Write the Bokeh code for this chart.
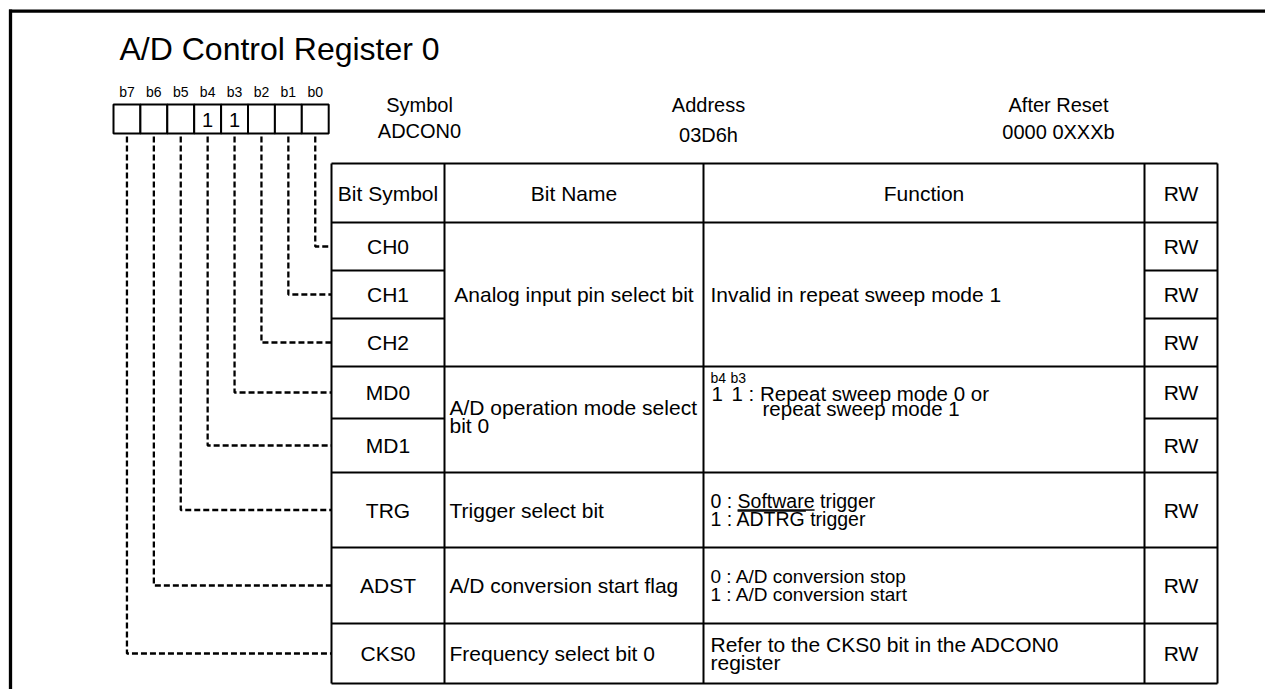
from bokeh.plotting import figure
from bokeh.models import Range1d
from bokeh.embed import file_html
from bokeh.resources import INLINE
from bokeh.core.properties import value

# ---------------- data ----------------
title_text = "A/D Control Register 0"
bit_labels = ["b7", "b6", "b5", "b4", "b3", "b2", "b1", "b0"]
reset_marks = ["", "", "", "1", "1", "", "", ""]
info_heads = ["Symbol", "Address", "After Reset"]
info_vals = ["ADCON0", "03D6h", "0000 0XXXb"]
col_heads = ["Bit Symbol", "Bit Name", "Function", "RW"]
symbols = ["CH0", "CH1", "CH2", "MD0", "MD1", "TRG", "ADST", "CKS0"]
bit_numbers = [0, 1, 2, 3, 4, 5, 6, 7]
access = ["RW", "RW", "RW", "RW", "RW", "RW", "RW", "RW"]
group_first = [0, 3, 5, 6, 7]
group_last = [2, 4, 5, 6, 7]
names = [["Analog input pin select bit"],
         ["A/D operation mode select", "bit 0"],
         ["Trigger select bit"],
         ["A/D conversion start flag"],
         ["Frequency select bit 0"]]
functions = [["Invalid in repeat sweep mode 1"],
             ["1 : Repeat sweep mode 0 or", "repeat sweep mode 1"],
             ["0 : Software trigger", "1 : ADTRG trigger"],
             ["0 : A/D conversion stop", "1 : A/D conversion start"],
             ["Refer to the CKS0 bit in the ADCON0", "register"]]
md_bits = ["b4", "b3"]
md_vals = ["1", "1"]

# ---------------- layout ----------------
FONT = "Liberation Sans"
W, H = 1265, 689
col_x = [331, 444, 703, 1144, 1217]
table_top = 163
header_h = 59
row_h = [48, 48, 48, 52, 54, 75, 76, 60]
box_left, cell_w, box_top, box_bot = 113, 26.9, 104, 133
fs_body = "21px"
fs_info = "20px"
func_sizes = [21, 20.5, 19.5, 19, 21]
line_gap = 17.5

p = figure(width=W, height=H, x_range=Range1d(0, W), y_range=Range1d(H, 0),
           output_backend="svg", toolbar_location=None, x_axis_type=None, y_axis_type=None,
           min_border=0)
p.grid.visible = False
p.outline_line_color = None
p.background_fill_color = "white"
p.border_fill_color = "white"


def txt(xs, ys, texts, size, align="left", baseline="middle"):
    p.text(x=xs, y=ys, text=texts, text_font=value(FONT), text_font_size=size,
           text_align=align, text_baseline=baseline, text_color="black")


# outer frame (left and top)
p.segment(x0=[10, 8.5], y0=[9, 10.7], x1=[10, W], y1=[H, 10.7],
          line_color="black", line_width=3.3)

# title
txt([119], [48], [title_text], "32px")

# register box
n = len(bit_labels)
lefts = [box_left + i * cell_w for i in range(n)]
rights = [l + cell_w for l in lefts]
centers = [l + cell_w / 2 for l in lefts]
p.quad(left=lefts, right=rights, top=[box_top] * n, bottom=[box_bot] * n,
       fill_color="white", line_color="black", line_width=2)
txt(centers, [91] * n, bit_labels, "14px", align="center")
txt(centers, [(box_top + box_bot) / 2 + 1] * n, reset_marks, "20px", align="center")

# info
info_x = [419, 708, 1058]
txt(info_x, [104] * 3, info_heads, fs_info, align="center")
txt(info_x, [130, 134, 131], info_vals, fs_info, align="center")

# table geometry
edges = [table_top, table_top + header_h]
for h in row_h:
    edges.append(edges[-1] + h)
table_bot = edges[-1]
row_c = [(edges[i + 1] + edges[i + 2]) / 2 for i in range(len(symbols))]

# vertical lines
p.segment(x0=col_x, y0=[table_top] * 5, x1=col_x, y1=[table_bot] * 5,
          line_color="black", line_width=2)
# horizontal lines
hx0, hy0, hx1 = [], [], []
for k, e in enumerate(edges):
    merged = False
    if 2 <= k <= len(symbols):
        r = k - 2
        for f, l in zip(group_first, group_last):
            if f <= r < l:
                merged = True
    if merged:
        hx0 += [col_x[0], col_x[3]]
        hx1 += [col_x[1], col_x[4]]
        hy0 += [e, e]
    else:
        hx0.append(col_x[0])
        hx1.append(col_x[4])
        hy0.append(e)
p.segment(x0=hx0, y0=hy0, x1=hx1, y1=hy0, line_color="black", line_width=2)

# header texts
col_c = [(col_x[i] + col_x[i + 1]) / 2 for i in range(4)]
hy = table_top + header_h / 2
txt(col_c, [hy] * 4, col_heads, fs_body, align="center")

# symbol + RW columns
txt([col_c[0]] * len(symbols), row_c, symbols, fs_body, align="center")
txt([col_c[3]] * len(symbols), row_c, access, fs_body, align="center")

# names
for g, (f, l) in enumerate(zip(group_first, group_last)):
    cy = (edges[f + 1] + edges[l + 2]) / 2
    lines = names[g]
    ys = [cy + (i - (len(lines) - 1) / 2) * line_gap - (3 if len(lines) > 1 else 0)
          for i in range(len(lines))]
    if g == 0:
        txt([col_c[1]], ys, lines, fs_body, align="center")
    else:
        txt([col_x[1] + 5] * len(lines), ys, lines, fs_body)

# functions
fx = col_x[2] + 7
for g, (f, l) in enumerate(zip(group_first, group_last)):
    cy = (edges[f + 1] + edges[l + 2]) / 2
    lines = functions[g]
    fs = "%spx" % func_sizes[g]
    if g == 0:
        txt([fx], [cy], lines, fs)
    elif g == 1:
        top = edges[f + 1]
        txt([fx, fx + 20], [top + 11] * 2, md_bits, "14px")
        txt([fx + 1], [top + 27], [md_vals[0]], fs)
        txt([fx + 21, fx + 52], [top + 27, top + 42], lines, fs)
    else:
        ys = [cy - line_gap / 2, cy + line_gap / 2]
        txt([fx] * 2, ys, lines, fs)
        if g == 2:
            fsz = func_sizes[g]
            pre = 1.39 * fsz
            w_sw = 3.946 * fsz
            w_ad = 3.5 * fsz
            uy = cy + 0.5
            p.segment(x0=[fx + pre, fx + pre], y0=[uy - 0.5, uy + 0.5],
                      x1=[fx + pre + w_sw, fx + pre + w_ad], y1=[uy - 0.5, uy + 0.5],
                      line_color="black", line_width=1.3)

# dashed connectors
xs, ys = [], []
for k, b in enumerate(bit_numbers):
    cx = centers[n - 1 - b]
    xs.append([cx, cx, col_x[0]])
    ys.append([box_bot + 3, row_c[k], row_c[k]])
p.multi_line(xs=xs, ys=ys, line_color="black", line_width=2.3, line_dash="6 3")

open("out.html", "w").write(file_html(p, INLINE))
